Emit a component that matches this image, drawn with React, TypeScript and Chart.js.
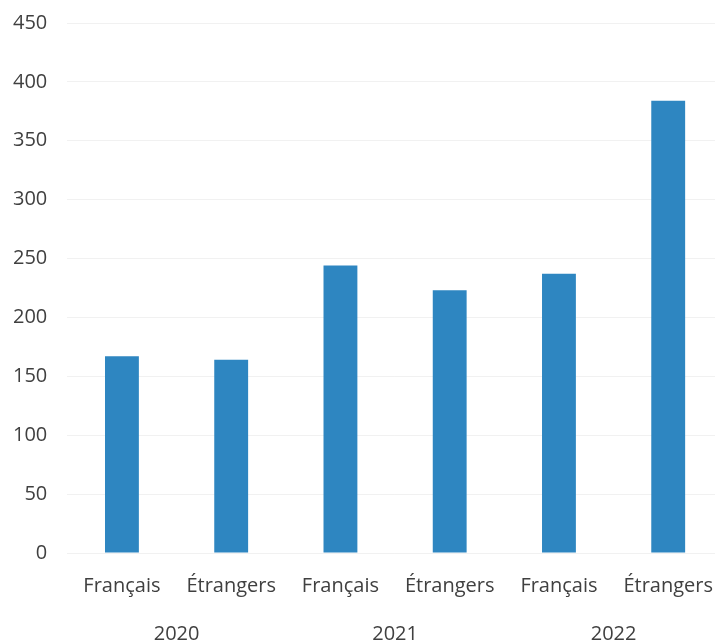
import React, { useEffect, useRef } from "react";
import { Chart, registerables } from "chart.js";

Chart.register(...registerables);

const groups = ["Français", "Étrangers", "Français", "Étrangers", "Français", "Étrangers"];
const years = ["2020", "2021", "2022"];
const values = [167, 164, 244, 223, 237, 384];

export default function App() {
  const ref = useRef<HTMLCanvasElement | null>(null);
  useEffect(() => {
    if (!ref.current) return;
    const font = { family: "'Open Sans', sans-serif", size: 20 };
    const chart = new Chart(ref.current, {
      type: "bar",
      data: {
        labels: groups,
        datasets: [
          {
            data: values,
            backgroundColor: "rgb(46,134,193)",
            barPercentage: 0.62,
            categoryPercentage: 0.5,
          },
        ],
      },
      options: {
        animation: false,
        responsive: false,
        maintainAspectRatio: false,
        layout: { padding: { top: 13, left: 12, right: 0, bottom: 0 } },
        plugins: { legend: { display: false }, tooltip: { enabled: false } },
        scales: {
          x: {
            position: "bottom",
            weight: 0,
            grid: { display: false, drawTicks: false },
            border: { display: false },
            ticks: { color: "#404040", font, padding: 21, maxRotation: 0, autoSkip: false },
          },
          x2: {
            type: "category",
            position: "bottom",
            weight: 1,
            labels: years,
            grid: { display: false, drawTicks: false },
            border: { display: false },
            ticks: { color: "#404040", font, padding: 3, maxRotation: 0, autoSkip: false },
          },
          y: {
            min: 0,
            max: 450,
            grid: { color: "#f1f1f1", drawTicks: false },
            border: { display: false },
            ticks: { stepSize: 50, color: "#404040", font, padding: 20 },
          },
        },
      },
    });
    return () => chart.destroy();
  }, []);
  return (
    <div style={{ position: "fixed", left: 0, top: 0, width: 715, height: 642, overflow: "hidden", background: "#fff" }}>
      <canvas ref={ref} width={753} height={658} style={{ width: 753, height: 658, display: "block", marginLeft: -19, marginTop: -9 }} />
    </div>
  );
}
